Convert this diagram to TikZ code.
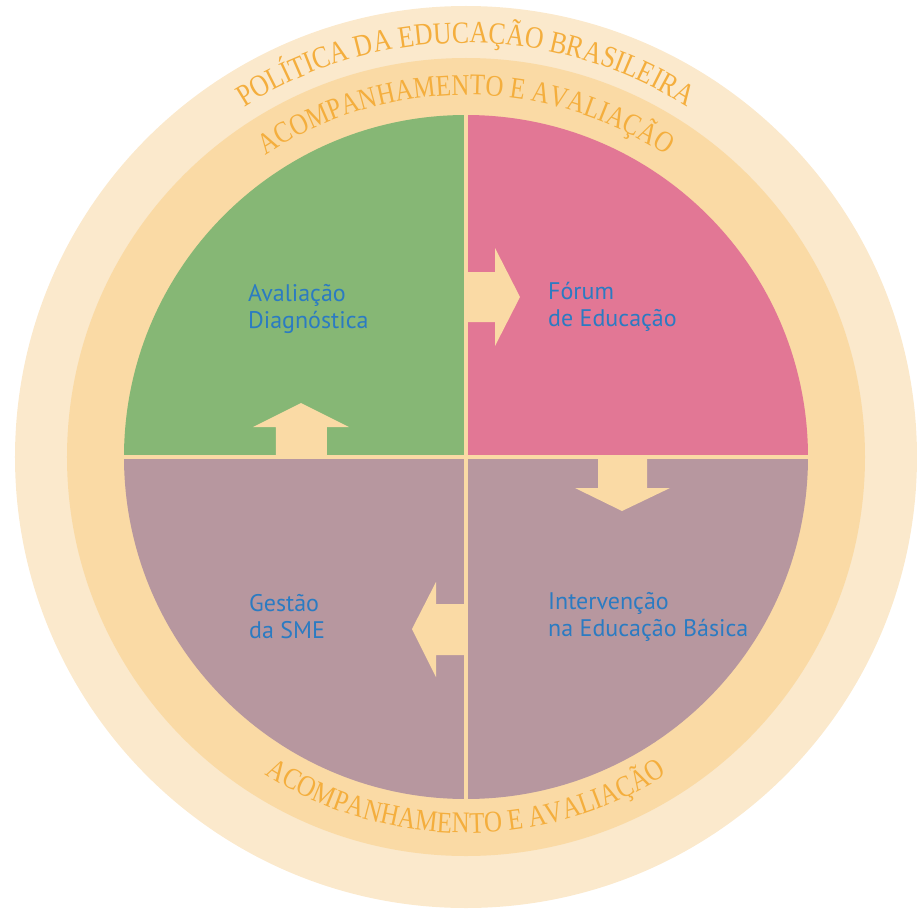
\documentclass[tikz,border=0pt]{standalone}
\usepackage{fontspec}
\setmainfont{Liberation Serif}
\newfontfamily\ringfont[FakeStretch=0.83]{Liberation Serif}
\newfontfamily\stagefont{PT Sans}
\usetikzlibrary{decorations.text}

\definecolor{outerring}{HTML}{FBE9CC}
\definecolor{innerring}{HTML}{FADAA5}
\definecolor{diaggreen}{HTML}{86B775}
\definecolor{forumpink}{HTML}{E27795}
\definecolor{gestmauve}{HTML}{B7979F}
\definecolor{ringorange}{HTML}{F4AE3D}
\definecolor{stageblue}{HTML}{2B7BC2}

\begin{document}
\begin{tikzpicture}[x=1pt,y=1pt,
    stage/.style={text=stageblue,font=\stagefont\fontsize{24}{27}\selectfont,
      align=left,anchor=base west,inner sep=0pt},
    ringtext/.style 2 args={decorate,decoration={text along path,text align=center,
      text color=ringorange,text={|\ringfont\fontsize{#1}{#1}\selectfont|#2}}},
    flow/.style={fill=innerring}
  ]
  \useasboundingbox (-466,-451) rectangle (451,457);

  % rings
  \fill[outerring] (0,0) circle[radius=451];
  \fill[innerring] (0,0) circle[radius=399];

  % the four quarters
  \fill[diaggreen] (0,0) -- (180:342) arc[start angle=180,end angle=90,radius=342] -- cycle;
  \fill[forumpink] (0,0) -- (90:342) arc[start angle=90,end angle=0,radius=342] -- cycle;
  \fill[gestmauve] (0,0) -- (0:342) arc[start angle=0,end angle=-180,radius=342] -- cycle;
  \draw[innerring,line width=4] (-343,0) -- (343,0);
  \draw[innerring,line width=4] (0,-343) -- (0,343);

  % arrows between the quarters
  \fill[flow] (-190,0) -- (-190,30) -- (-213,30) -- (-165,54) -- (-117,30) -- (-139,30) -- (-139,0) -- cycle;
  \fill[flow] (0,135) -- (29,135) -- (29,111) -- (54,160) -- (29,209) -- (29,185) -- (0,185) -- cycle;
  \fill[flow] (132,0) -- (132,-31) -- (109,-31) -- (156,-54) -- (204,-31) -- (181,-31) -- (181,0) -- cycle;
  \fill[flow] (0,-147) -- (-30,-147) -- (-30,-125) -- (-54,-172) -- (-30,-220) -- (-30,-198) -- (0,-198) -- cycle;

  % texts on the rings
  \path[ringtext={31}{POLÍTICA DA EDUCAÇÃO BRASILEIRA}] (160:414) arc[start angle=160,end angle=20,radius=414];
  \path[ringtext={30}{ACOMPANHAMENTO E AVALIAÇÃO}] (160:362) arc[start angle=160,end angle=20,radius=362];
  \path[ringtext={30}{ACOMPANHAMENTO E AVALIAÇÃO}] (200:376) arc[start angle=200,end angle=340,radius=376];

  % stages
  \node (diag) at (-218,129) [stage] {Avaliação\\Diagnóstica};
  \node (forum) at (82,131) [stage] {Fórum\\de Educação};
  \node (gestao) at (-217,-181) [stage] {Gestão\\da SME};
  \node (interv) at (82,-179) [stage] {Intervenção\\na Educação Básica};
\end{tikzpicture}
\end{document}
